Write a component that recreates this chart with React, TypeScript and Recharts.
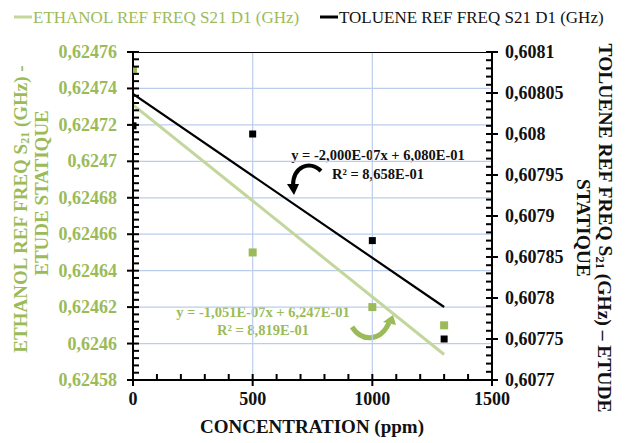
import React from 'react';
import {
  ComposedChart,
  XAxis,
  YAxis,
  Scatter,
  Line,
  Customized,
} from 'recharts';

// ---- data ----
const concentrations = [0, 500, 1000, 1300];
const ethanolFreq = [0.62475, 0.62465, 0.62462, 0.62461];
const tolueneFreq = [0.60801, 0.608, 0.60787, 0.60775];
const trendConcentrations = [0, 1300];
const ethanolTrend = [0.624731, 0.624594];
const tolueneTrend = [0.608049, 0.607789];

const xMajorTicks = [0, 500, 1000, 1500];
const leftMajorTicks = [0.62458, 0.6246, 0.62462, 0.62464, 0.62466, 0.62468, 0.6247, 0.62472, 0.62474, 0.62476];
const rightMajorTicks = [0.6077, 0.60775, 0.6078, 0.60785, 0.6079, 0.60795, 0.608, 0.60805, 0.6081];

const ethanolName = 'ETHANOL REF FREQ S21 D1 (GHz)';
const tolueneName = 'TOLUENE REF FREQ S21 D1 (GHz)';
const xTitle = 'CONCENTRATION (ppm)';
const ethanolEq = 'y = -1,051E-07x + 6,247E-01';
const ethanolR2 = 'R² = 8,819E-01';
const tolueneEq = 'y = -2,000E-07x + 6,080E-01';
const tolueneR2 = 'R² = 8,658E-01';

// ---- style ----
const GREEN = '#9bbb59';
const GREEN_LINE = '#c3d69b';
const GRID = '#bccdec';
const FONT = '"Liberation Serif", "Times New Roman", serif';

const withMinors = (majors: number[]) => {
  const out: number[] = [];
  for (let i = 0; i < majors.length - 1; i++) {
    const a = majors[i];
    const b = majors[i + 1];
    for (let k = 0; k < 5; k++) out.push(a + ((b - a) * k) / 5);
  }
  out.push(majors[majors.length - 1]);
  return out;
};

const xTicks = withMinors(xMajorTicks);
const leftTicks = withMinors(leftMajorTicks);
const rightTicks = withMinors(rightMajorTicks);

const isMajor = (v: number, majors: number[]) => {
  const span = Math.abs(majors[majors.length - 1] - majors[0]);
  return majors.some((m) => Math.abs(m - v) < span * 1e-4);
};

const fmt = (v: number, digits: number) =>
  String(parseFloat(v.toFixed(digits))).replace('.', ',');

const X_MIN = xMajorTicks[0];
const X_MAX = xMajorTicks[xMajorTicks.length - 1];
const L_MIN = leftMajorTicks[0];
const L_MAX = leftMajorTicks[leftMajorTicks.length - 1];
const R_MIN = rightMajorTicks[0];
const R_MAX = rightMajorTicks[rightMajorTicks.length - 1];

const ethanolData = concentrations.map((x, i) => ({ x, y: ethanolFreq[i] }));
const tolueneData = concentrations.map((x, i) => ({ x, y: tolueneFreq[i] }));
const ethanolTrendData = trendConcentrations.map((x, i) => ({ x, y: ethanolTrend[i] }));
const tolueneTrendData = trendConcentrations.map((x, i) => ({ x, y: tolueneTrend[i] }));

// axis frame pieces (drawn through the axes' scales)
const hGrid = leftMajorTicks.slice(1, -1).map((v) => [{ x: X_MIN, y: v }, { x: X_MAX, y: v }]);
const vGrid = xMajorTicks.slice(1, -1).map((v) => [{ x: v, y: L_MIN }, { x: v, y: L_MAX }]);
const topBorder = [{ x: X_MIN, y: L_MAX }, { x: X_MAX, y: L_MAX }];

const LeftTick = (props: any) => {
  const { x, y, payload } = props;
  const major = isMajor(payload.value, leftMajorTicks);
  return (
    <g>
      <path d={`M ${major ? x - 6 : x} ${y} L ${x + 6} ${y}`} stroke="#000" strokeWidth={2} fill="none" />
      {major && (
        <text x={x - 16} y={y} textAnchor="end" dominantBaseline="central" fill={GREEN}
          fontFamily={FONT} fontWeight="bold" fontSize={18}>
          {fmt(payload.value, 5)}
        </text>
      )}
    </g>
  );
};

const RightTick = (props: any) => {
  const { x, y, payload } = props;
  const major = isMajor(payload.value, rightMajorTicks);
  return (
    <g>
      <path d={`M ${x - 6} ${y} L ${major ? x + 6 : x} ${y}`} stroke="#000" strokeWidth={2} fill="none" />
      {major && (
        <text x={x + 13} y={y} textAnchor="start" dominantBaseline="central" fill="#111"
          fontFamily={FONT} fontWeight="bold" fontSize={18}>
          {fmt(payload.value, 5)}
        </text>
      )}
    </g>
  );
};

const BottomTick = (props: any) => {
  const { x, y, payload } = props;
  const major = isMajor(payload.value, xMajorTicks);
  return (
    <g>
      <path d={`M ${x} ${major ? y + 6 : y} L ${x} ${y - 6}`} stroke="#000" strokeWidth={2} fill="none" />
      {major && (
        <text x={x} y={y + 19} textAnchor="middle" dominantBaseline="central" fill="#111"
          fontFamily={FONT} fontWeight="bold" fontSize={18}>
          {payload.value}
        </text>
      )}
    </g>
  );
};

const Square = (size: number, color: string) => (p: any) =>
  <rect x={p.cx - size / 2} y={p.cy - size / 2} width={size} height={size} fill={color} />;

const Decorations = () => (
  <g fontFamily={FONT}>
    {/* legend */}
    <line x1={14} x2={32} y1={17} y2={17} stroke={GREEN_LINE} strokeWidth={3} />
    <text x={33} y={17} dominantBaseline="central" fill={GREEN} fontSize={17}>{ethanolName}</text>
    <line x1={320} x2={338} y1={17} y2={17} stroke="#000" strokeWidth={3} />
    <text x={339} y={17} dominantBaseline="central" fill="#111" fontSize={17}>{tolueneName}</text>

    {/* x title */}
    <text x={312} y={426} textAnchor="middle" dominantBaseline="central" fill="#111"
      fontWeight="bold" fontSize={19}>{xTitle}</text>

    {/* left title */}
    <g transform="translate(20,209) rotate(-90)">
      <text x={0} y={0} textAnchor="middle" dominantBaseline="central" fill={GREEN} fontWeight="bold" fontSize={19}>
        ETHANOL REF FREQ S<tspan dy={5} fontSize={12}>21</tspan><tspan dy={-5}> (GHz) -</tspan>
      </text>
    </g>
    <g transform="translate(41,193) rotate(-90)">
      <text x={0} y={0} textAnchor="middle" dominantBaseline="central" fill={GREEN} fontWeight="bold" fontSize={19}>
        ETUDE STATIQUE
      </text>
    </g>

    {/* right title */}
    <g transform="translate(605,228) rotate(90)">
      <text x={0} y={0} textAnchor="middle" dominantBaseline="central" fill="#111" fontWeight="bold" fontSize={19.5}>
        TOLUENE REF FREQ S<tspan dy={5} fontSize={12.5}>21</tspan><tspan dy={-5}> (GHz) – ETUDE</tspan>
      </text>
    </g>
    <g transform="translate(583,228) rotate(90)">
      <text x={0} y={0} textAnchor="middle" dominantBaseline="central" fill="#111" fontWeight="bold" fontSize={19.5}>
        STATIQUE
      </text>
    </g>

    {/* toluene equation */}
    <text x={378} y={160} textAnchor="middle" fill="#111" fontWeight="bold" fontSize={14.5}>{tolueneEq}</text>
    <text x={378} y={179} textAnchor="middle" fill="#111" fontWeight="bold" fontSize={14.5}>{tolueneR2}</text>
    <path d="M 321 171 C 310 160 293 166 293 186" fill="none" stroke="#000" strokeWidth={4} />
    <path d="M 287 184 L 299 184 L 294 195 Z" fill="#000" />

    {/* ethanol equation */}
    <text x={263} y={317} textAnchor="middle" fill={GREEN} fontWeight="bold" fontSize={14.5}>{ethanolEq}</text>
    <text x={263} y={335} textAnchor="middle" fill={GREEN} fontWeight="bold" fontSize={14.5}>{ethanolR2}</text>
    <path d="M 352 327 C 362 342 380 342 389 323" fill="none" stroke={GREEN} strokeWidth={5} />
    <path d="M 383 322 L 396 325 L 393 315 Z" fill={GREEN} />
  </g>
);

const lineCommon = {
  dot: false as const,
  activeDot: false as const,
  isAnimationActive: false,
  legendType: 'none' as const,
};

export default function App() {
  return (
    <div style={{ position: 'absolute', left: 0, top: 0, width: 626, height: 443, background: '#fff' }}>
      <ComposedChart width={626} height={443} margin={{ top: 52, right: 0, bottom: 33, left: 0 }}>
        <XAxis
          type="number"
          dataKey="x"
          height={30}
          domain={[X_MIN, X_MAX]}
          ticks={xTicks}
          interval={0}
          tickSize={0}
          tickMargin={0}
          tick={<BottomTick />}
          axisLine={{ stroke: '#000', strokeWidth: 2 }}
          tickLine={false}
          allowDataOverflow
        />
        <YAxis
          yAxisId="left"
          orientation="left"
          width={133}
          type="number"
          domain={[L_MIN, L_MAX]}
          ticks={leftTicks}
          interval={0}
          tickSize={0}
          tickMargin={0}
          tick={<LeftTick />}
          axisLine={{ stroke: '#000', strokeWidth: 2 }}
          tickLine={false}
          allowDataOverflow
        />
        <YAxis
          yAxisId="right"
          orientation="right"
          width={134}
          type="number"
          domain={[R_MIN, R_MAX]}
          ticks={rightTicks}
          interval={0}
          tickSize={0}
          tickMargin={0}
          tick={<RightTick />}
          axisLine={{ stroke: '#000', strokeWidth: 2 }}
          tickLine={false}
          allowDataOverflow
        />
        {hGrid.map((d, i) => (
          <Line key={'h' + i} yAxisId="left" data={d} dataKey="y" stroke={GRID} strokeWidth={1.2} {...lineCommon} />
        ))}
        {vGrid.map((d, i) => (
          <Line key={'v' + i} yAxisId="left" data={d} dataKey="y" stroke={GRID} strokeWidth={1.2} {...lineCommon} />
        ))}
        <Line yAxisId="left" data={topBorder} dataKey="y" stroke="#000" strokeWidth={2} {...lineCommon} />
        <Line yAxisId="left" data={ethanolTrendData} dataKey="y" stroke={GREEN_LINE} strokeWidth={3} {...lineCommon} />
        <Line yAxisId="right" data={tolueneTrendData} dataKey="y" stroke="#000" strokeWidth={2.2} {...lineCommon} />
        <Scatter
          yAxisId="left"
          name={ethanolName}
          data={ethanolData}
          dataKey="y"
          shape={Square(8, GREEN)}
          isAnimationActive={false}
        />
        <Scatter
          yAxisId="right"
          name={tolueneName}
          data={tolueneData}
          dataKey="y"
          shape={Square(7, '#000')}
          isAnimationActive={false}
        />
        <Customized component={Decorations} />
      </ComposedChart>
    </div>
  );
}
